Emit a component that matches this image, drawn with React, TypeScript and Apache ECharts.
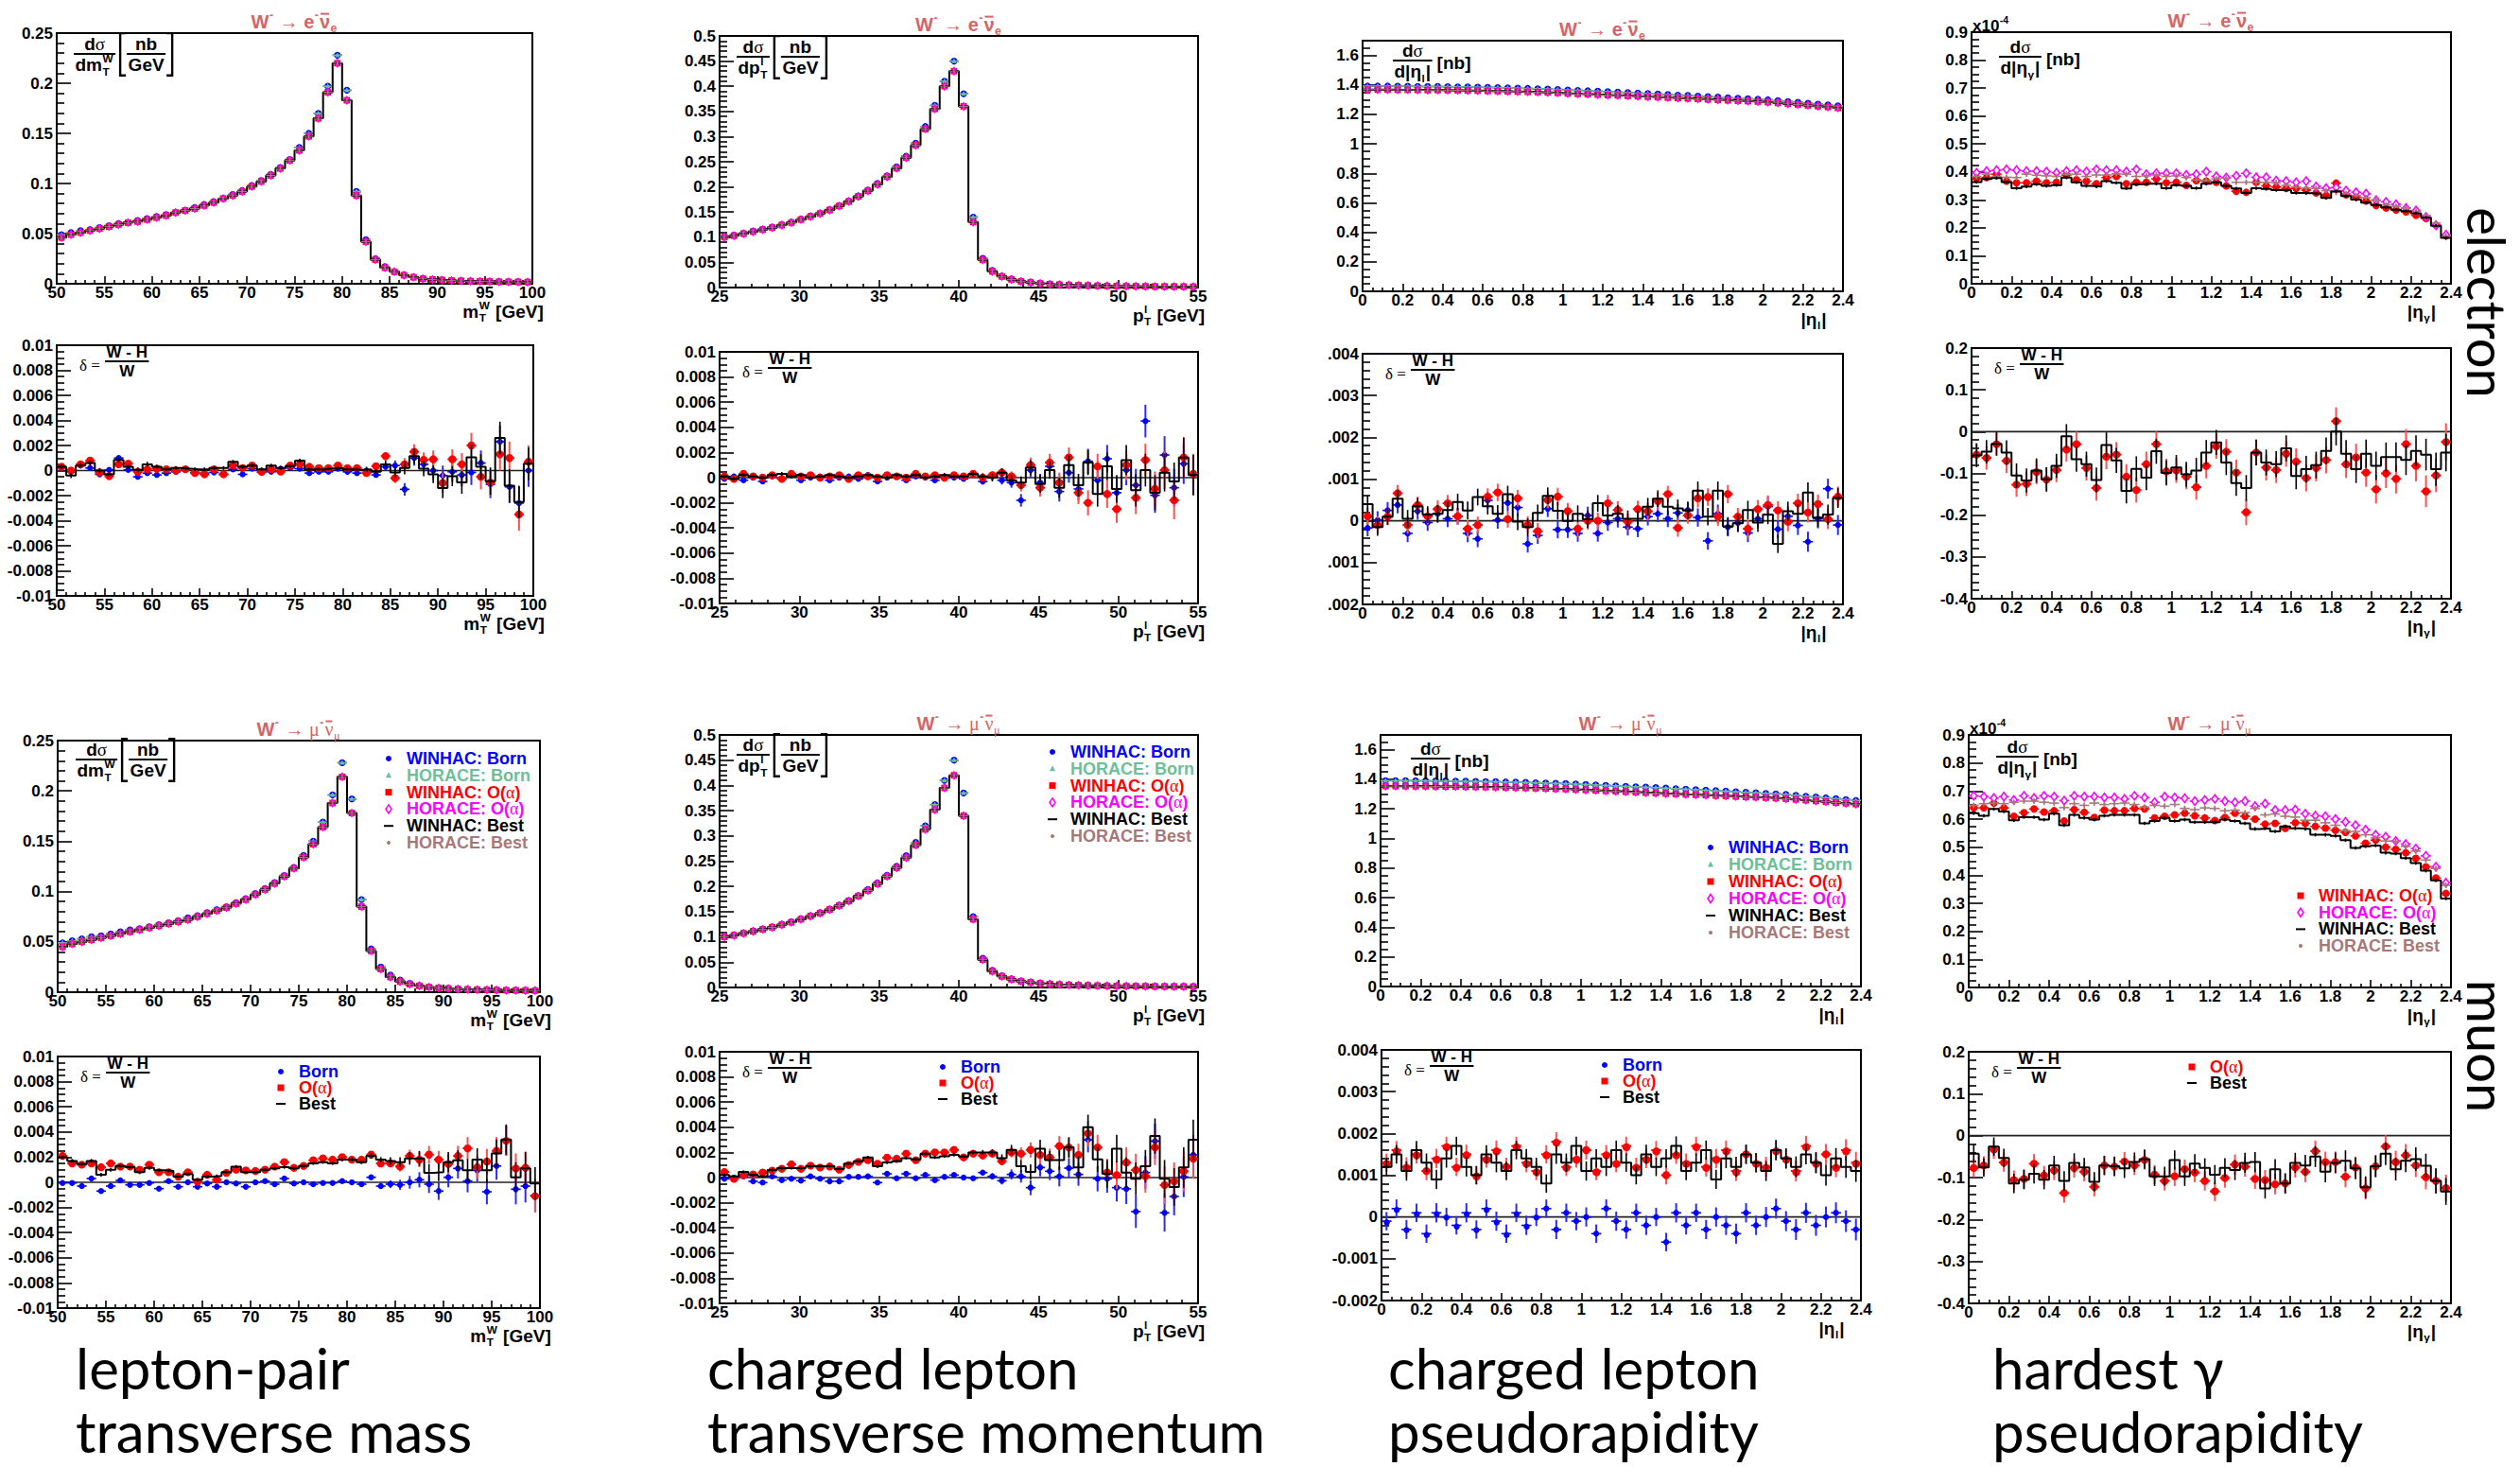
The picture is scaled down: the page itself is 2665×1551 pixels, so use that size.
import React, { useEffect, useRef } from "react";
import * as echarts from "echarts";

/* ---------------- binning ---------------- */
const MT_LO = 50;
const MT_W = 1;
const PT_LO = 25;
const PT_W = 0.6;
const ETA_LO = 0;
const ETA_W = 0.05;

/* ---------------- m_T^W, electron channel ---------------- */
const mtElBorn = [0.049,0.051,0.053,0.054,0.056,0.058,0.060,0.061,0.063,0.065,0.067,0.069,0.071,0.073,0.076,0.079,0.082,0.085,0.089,0.093,0.098,0.103,0.109,0.116,0.124,0.136,0.150,0.170,0.197,0.228,0.193,0.092,0.044,0.025,0.017,0.012,0.0088,0.0067,0.0052,0.0044,0.0038,0.0033,0.003,0.0027,0.0025,0.0023,0.0021,0.002,0.0019,0.0018];
const mtElRad = [0.046,0.049,0.051,0.053,0.055,0.057,0.059,0.061,0.062,0.064,0.066,0.068,0.071,0.073,0.075,0.078,0.081,0.085,0.088,0.092,0.097,0.102,0.108,0.115,0.123,0.133,0.147,0.165,0.191,0.220,0.183,0.088,0.042,0.024,0.016,0.012,0.0085,0.0065,0.005,0.0043,0.0037,0.0032,0.0029,0.0026,0.0024,0.0022,0.002,0.0019,0.0018,0.0017];
const mtElDBorn = [0.0002,-0.0001,0.0004,0.0002,-0.0003,0.00005,0.001,0.00005,-0.0005,-0.0002,-0.00035,-0.0002,-0.0001,0.0001,-0.00015,-0.0002,-0.00015,-0.0003,0.0001,-0.0003,0.00015,-0.00015,-0.0001,0.00015,0.0002,0.00015,-0.0002,-0.0001,-0.0001,0.00015,-0.0001,-0.0002,0,-0.00035,0.0003,0.0004,-0.0015,0.001,0.0005,0,-0.0004,-0.0001,-0.00035,-0.00015,0.0006,-0.0011,0.0023,-0.0013,-0.0026,0];
const mtElDOa = [0.0003,0,0.0005,0.0008,-0.00015,-0.00045,0.0005,0.00055,-0.0001,0.0001,0.00015,0.0001,0,0.0001,-0.0002,-0.0003,0.0001,-0.0003,0.0004,0.0002,0.0004,-0.0001,0.0001,-0.00008,0.0004,0.0005,0.0003,0.0002,0.0002,0.0004,0.0002,0.0002,-0.0002,0.00035,0.00115,-0.0006,0.0005,0.0015,0.00085,0.0009,-0.001,0.0009,0.0005,0.002,-0.0005,-0.00095,0.0013,0.001,-0.0035,0.0007];
const mtElDBest = [0.0003,-0.0004,0.0004,0.0006,0,-0.0003,0.00085,0.0003,0.00005,0.0005,0.0003,0.0001,0.0002,0.00015,0.0001,0.0001,0.0002,0.0002,0.0007,0.0003,0.0004,0.0001,0.0004,0.0002,0.00035,0.0008,0.0001,0.0001,0.00015,0.0002,0.0001,0.00005,0.0001,-0.0001,0.0005,-0.00015,0.0002,0.00115,0.00015,-0.0003,-0.0014,-0.00045,-0.00095,0.00105,0.0003,-0.00085,0.0026,-0.0012,-0.0025,0.00055];
const mtElErr = [0.0002,0.0002,0.0002,0.0002,0.0002,0.0002,0.0002,0.0002,0.0002,0.0002,0.00015,0.00015,0.00015,0.00015,0.00015,0.00015,0.00015,0.00015,0.00015,0.00015,0.00015,0.00015,0.00015,0.00015,0.00015,0.00015,0.00015,0.00015,0.00015,0.00015,0.0002,0.0002,0.0002,0.0002,0.0003,0.0004,0.0005,0.0006,0.0006,0.0007,0.0008,0.0008,0.0009,0.001,0.001,0.0011,0.0013,0.0013,0.0013,0.0013];

/* ---------------- m_T^W, muon channel ---------------- */
const mtMuBorn = [0.049,0.051,0.053,0.055,0.056,0.058,0.060,0.062,0.063,0.065,0.067,0.069,0.071,0.074,0.076,0.079,0.082,0.085,0.089,0.093,0.098,0.103,0.109,0.116,0.124,0.136,0.150,0.169,0.196,0.228,0.192,0.092,0.043,0.025,0.017,0.012,0.0088,0.0067,0.0052,0.0044,0.0038,0.0033,0.003,0.0027,0.0025,0.0023,0.0021,0.002,0.0019,0.0018];
const mtMuRad = [0.045,0.048,0.050,0.052,0.054,0.056,0.058,0.060,0.062,0.064,0.066,0.068,0.070,0.072,0.075,0.078,0.081,0.084,0.088,0.092,0.097,0.102,0.108,0.115,0.123,0.134,0.147,0.164,0.188,0.214,0.178,0.085,0.041,0.023,0.015,0.0105,0.008,0.0063,0.005,0.0042,0.0036,0.0031,0.0028,0.0025,0.0023,0.0021,0.0019,0.0018,0.0017,0.0016];
const mtMuDBorn = [-0.00005,-0.00005,-0.0003,0.0003,-0.0007,-0.0003,0.00015,-0.0002,-0.0002,-0.00005,-0.0005,0.0001,-0.00035,0,-0.00035,-0.0001,-0.00035,0,-0.0001,-0.00035,0,0.0001,-0.00015,0.0003,-0.0001,0,-0.00015,-0.00005,-0.00005,0.0001,0,-0.00015,0.0004,-0.0003,-0.00015,-0.0002,0,0.0002,-0.00015,-0.0007,0.0004,0.0011,0.0001,0.00095,-0.00075,0.0013,0.0033,-0.00055,-0.0003,-0.00105];
const mtMuDOa = [0.0021,0.0015,0.0014,0.0015,0.0012,0.0015,0.00125,0.00125,0.001,0.0014,0.0008,0.0008,0.00045,0.0008,0.00005,0.0006,0.0002,0.00075,0.001,0.00095,0.0009,0.001,0.00125,0.0016,0.00115,0.0013,0.00175,0.0019,0.0018,0.002,0.0018,0.0018,0.0022,0.0015,0.0015,0.00125,0.0021,0.0018,0.0022,0.0018,0.00145,0.0021,0.0027,0.0012,0.00165,0.0025,0.0033,0.0011,0.00115,-0.0011];
const mtMuDBest = [0.002,0.0017,0.00145,0.0017,0.0006,0.001,0.0013,0.0012,0.0008,0.00115,0.00095,0.0009,0.00045,0.00065,0.0002,0.00045,0.0005,0.0008,0.00125,0.0008,0.0008,0.001,0.0011,0.0012,0.0011,0.0013,0.0015,0.0016,0.0015,0.0018,0.0018,0.0016,0.0021,0.0018,0.0017,0.0016,0.0019,0.0019,0.00075,0.0008,0.0016,0.00175,0.00095,0.0018,0.00095,0.0023,0.0034,0.0004,0.0011,-0.0001];
const mtMuErr = [0.00015,0.00015,0.00015,0.00015,0.00015,0.00015,0.00015,0.00015,0.00015,0.00015,0.00012,0.00012,0.00012,0.00012,0.00012,0.00012,0.00012,0.00012,0.00012,0.00012,0.00012,0.00012,0.00012,0.00012,0.00012,0.00012,0.00012,0.00012,0.00012,0.00012,0.00015,0.00015,0.0002,0.0002,0.0003,0.0004,0.0005,0.0006,0.0007,0.0007,0.0008,0.0008,0.0009,0.0009,0.001,0.0011,0.0012,0.0012,0.0013,0.0013];

/* ---------------- p_T^l, electron channel ---------------- */
const ptElBorn = [0.101,0.104,0.108,0.112,0.116,0.120,0.125,0.130,0.136,0.142,0.148,0.155,0.163,0.172,0.182,0.194,0.207,0.222,0.240,0.261,0.287,0.320,0.362,0.410,0.450,0.385,0.140,0.058,0.034,0.023,0.017,0.013,0.0105,0.0085,0.007,0.006,0.0052,0.0046,0.0041,0.0037,0.0033,0.003,0.0028,0.0026,0.0024,0.0022,0.0021,0.002,0.0019,0.0018];
const ptElRad = [0.100,0.103,0.107,0.111,0.115,0.119,0.124,0.129,0.135,0.141,0.147,0.154,0.162,0.171,0.181,0.192,0.205,0.220,0.237,0.258,0.283,0.315,0.355,0.400,0.430,0.360,0.130,0.055,0.032,0.022,0.016,0.012,0.010,0.008,0.0068,0.0058,0.005,0.0044,0.004,0.0036,0.0032,0.0029,0.0027,0.0025,0.0023,0.0021,0.002,0.0019,0.0018,0.0017];
const ptElDBorn = [-0.0001,0.0001,-0.0002,0,-0.0003,0.0001,-0.0001,0.0002,-0.0002,0,0.0001,-0.0002,0,0.0001,-0.0001,0.0002,-0.0003,0,0.0001,-0.0002,0.0001,0,-0.0002,0.0001,0,-0.0001,0.0002,-0.0003,0.0001,-0.0002,-0.0004,-0.0018,0.0006,-0.0004,0.0009,-0.0011,0.0004,-0.0009,0.0013,-0.0002,0.0015,-0.0012,0.0006,-0.0006,0.0045,-0.0014,0.0018,-0.0008,0.0011,0.0002];
const ptElDOa = [0.0001,-0.0001,0.0003,0.0001,0,0.0002,-0.0001,0.0003,0.0001,0.0002,0,0.0001,0.0002,-0.0001,0.0002,0.0001,0,0.0002,0.0001,0,0.0003,0.0001,0.0002,0,0.0002,0.0001,0.0003,0,0.0002,0.0004,0.0001,-0.0006,0.001,-0.0008,0.0012,-0.0004,0.0016,-0.0012,-0.002,0.0009,-0.0013,-0.0025,0.001,-0.0016,0.0014,-0.0009,0.0006,-0.0018,0.0016,0.0003];
const ptElDBest = [0.0001,-0.0001,0.0002,0.0001,0,0.0002,0.0003,0.0001,0.0002,0,0.0001,0.0002,0.0001,0,0.0001,0.0002,0.0001,0,0.0002,0.0001,0.0002,0,0.0001,0.0002,0.0001,0.0001,0.0003,0.0001,0,0.0004,-0.0002,-0.0004,0.0008,-0.0005,0.0006,-0.0008,0.001,-0.0006,0.0012,-0.0013,0.0009,-0.0009,0.0014,-0.001,0.0006,-0.0012,0.0004,-0.0003,0.0016,0.0002];
const ptElErr = [0.00015,0.00015,0.00015,0.00015,0.00015,0.00015,0.00015,0.00015,0.00015,0.00015,0.00015,0.00015,0.00015,0.00015,0.00015,0.00015,0.00015,0.00015,0.00015,0.00015,0.00015,0.00015,0.00015,0.00015,0.00015,0.00015,0.0002,0.00025,0.0003,0.00035,0.0004,0.0005,0.0006,0.0007,0.0007,0.0008,0.0008,0.0009,0.001,0.001,0.0011,0.0011,0.0012,0.0013,0.0013,0.0014,0.0015,0.0015,0.0016,0.0016];

/* ---------------- p_T^l, muon channel ---------------- */
const ptMuBorn = [0.101,0.104,0.108,0.112,0.116,0.120,0.125,0.130,0.136,0.142,0.148,0.155,0.163,0.172,0.182,0.194,0.207,0.222,0.240,0.261,0.287,0.320,0.362,0.410,0.450,0.385,0.140,0.058,0.034,0.023,0.017,0.013,0.0105,0.0085,0.007,0.006,0.0052,0.0046,0.0041,0.0037,0.0033,0.003,0.0028,0.0026,0.0024,0.0022,0.0021,0.002,0.0019,0.0018];
const ptMuRad = [0.100,0.103,0.107,0.111,0.115,0.119,0.124,0.129,0.135,0.141,0.147,0.154,0.162,0.171,0.181,0.192,0.205,0.220,0.237,0.257,0.282,0.313,0.352,0.395,0.420,0.340,0.135,0.055,0.032,0.022,0.016,0.012,0.010,0.008,0.0068,0.0058,0.005,0.0044,0.004,0.0036,0.0032,0.0029,0.0027,0.0025,0.0023,0.0021,0.002,0.0019,0.0018,0.0017];
const ptMuDBorn = [-0.0001,0,0.0001,-0.0003,-0.0004,0.0001,-0.0002,-0.0001,-0.00025,0.0001,-0.0001,-0.0003,-0.0003,0.00005,0.00005,0.0001,-0.0004,0.0003,-0.00005,0.0003,-0.00005,0.0002,-0.0002,0.00005,0.0002,0,-0.00005,0.0004,0.0001,-0.00025,0.00025,0.0001,-0.0008,0.0008,0.0005,0.0001,0.00075,0.00025,0.003,-0.0001,-0.0001,-0.0008,-0.0009,-0.0027,0.0004,0.0029,-0.0028,-0.0015,0.00005,0.0018];
const ptMuDOa = [0.00045,-0.0001,0.0002,0.00025,0.0004,0.00055,0.0007,0.00105,0.0007,0.00095,0.0008,0.00088,0.00063,0.001,0.00125,0.00138,0.0011,0.00158,0.0015,0.0019,0.00138,0.0019,0.002,0.002,0.0022,0.0016,0.0019,0.00175,0.0019,0.0013,0.002,0.0019,0.0022,0.0018,0.0016,0.0025,0.0024,0.0018,0.0035,0.0024,0.0004,0.0002,0.0012,0.0006,0.0001,0.0024,-0.0006,-0.0003,0.0005,0.0015];
const ptMuDBest = [0.0002,0.0001,0.00045,0.0002,0.0001,0.0006,0.00075,0.00075,0.00075,0.0009,0.0009,0.0009,0.00068,0.0011,0.0013,0.0016,0.0009,0.0012,0.0013,0.00155,0.00145,0.0019,0.0016,0.0017,0.0018,0.00168,0.002,0.002,0.002,0.00155,0.0022,0.0009,0.00045,0.0023,0.0014,0.0014,0.0024,0.0008,0.004,0.00145,0.0003,0.0023,0.0004,-0.0001,0.0009,0.0033,-0.0001,-0.00075,0.0008,0.003];
const ptMuErr = [0.00012,0.00012,0.00012,0.00012,0.00012,0.00012,0.00012,0.00012,0.00012,0.00012,0.00012,0.00012,0.00012,0.00012,0.00012,0.00012,0.00012,0.00012,0.00012,0.00012,0.00012,0.00012,0.00012,0.00012,0.00012,0.00012,0.00015,0.0002,0.00025,0.0003,0.0004,0.0005,0.0006,0.0007,0.0007,0.0008,0.0008,0.0009,0.001,0.001,0.0011,0.0011,0.0012,0.0013,0.0013,0.0014,0.0015,0.0015,0.0016,0.0016];

/* ---------------- |eta_l|, electron channel ---------------- */
const etaElBorn = [1.392,1.392,1.392,1.391,1.391,1.390,1.389,1.389,1.388,1.387,1.386,1.385,1.383,1.382,1.380,1.378,1.376,1.374,1.372,1.369,1.366,1.363,1.360,1.357,1.354,1.351,1.348,1.345,1.342,1.338,1.335,1.331,1.328,1.324,1.321,1.317,1.313,1.310,1.306,1.303,1.299,1.293,1.287,1.282,1.276,1.270,1.264,1.258];
const etaElRad = [1.368,1.368,1.368,1.367,1.367,1.366,1.365,1.365,1.364,1.363,1.362,1.361,1.359,1.358,1.356,1.355,1.353,1.351,1.349,1.346,1.342,1.339,1.337,1.334,1.331,1.329,1.326,1.323,1.320,1.317,1.314,1.311,1.308,1.305,1.302,1.299,1.296,1.293,1.290,1.287,1.283,1.278,1.272,1.267,1.261,1.256,1.250,1.244];
const etaElDBorn = [-0.00017,0.00002,0.00025,0.00038,-0.0003,0.00023,-0.00004,0.00017,0.00005,0.00011,-0.0003,-0.00043,0.00049,0.00002,0.00043,0.00032,-0.00055,-0.00035,0.00029,-0.00021,-0.00021,-0.0003,0.00013,-0.0003,-0.00004,0.00005,-0.00015,-0.00019,0.0001,0.00017,0.00005,0.00019,0.00026,0.00008,-0.00048,0.00017,-0.00015,-0.00005,-0.00029,0.00005,0.00034,-0.0002,0.00011,-0.00011,-0.0005,0.00005,0.00077,-0.0001];
const etaElDOa = [0.00011,-0.0001,0.0001,0.00066,-0.0001,0.00038,0.00011,0.00028,0.00042,0.00011,-0.00019,-0.0001,0.00058,0.00068,0.00004,0.00054,-0.0001,-0.00025,0.0005,0.00058,0.00023,-0.00019,0,0,0.00042,0.00026,-0.00002,0.00028,0.00023,0.00047,0.00064,-0.00017,0.00013,0.00054,0.00057,0.0001,0.00064,0.0001,-0.00019,0.00028,0.00038,0.00025,-0.00002,0.00042,0.0002,0.0004,0.00004,0.00058];
const etaElDBest = [0.0004,-0.00015,0.0001,0.00053,0.00005,0.00035,0.00015,0.00017,0.00026,0.00045,0.00025,0.00057,0.00035,0.00017,0.00064,-0.00002,-0.00015,0.00019,0.0006,0.00024,0,0.00017,0.00004,0.00042,0.00013,0.00017,0.00005,0.00005,0.00034,0.00053,0.00034,0.0003,0.00025,0.00072,0.0001,0.00072,-0.00013,-0.00006,0.00026,-0.00004,0.00015,-0.00055,0.00023,0.00017,0.00068,0.00008,0.00015,0.00055];
const etaElErr = [0.0002,0.00021,0.0002,0.0002,0.00021,0.0002,0.0002,0.00021,0.0002,0.0002,0.00021,0.0002,0.0002,0.00021,0.0002,0.0002,0.00021,0.0002,0.0002,0.00021,0.0002,0.0002,0.00021,0.0002,0.0002,0.00021,0.0002,0.0002,0.00021,0.0002,0.0002,0.00021,0.0002,0.00022,0.00021,0.00022,0.00022,0.00021,0.00022,0.00022,0.00023,0.00022,0.00023,0.00023,0.00024,0.00023,0.00024,0.00024];

/* ---------------- |eta_l|, muon channel ---------------- */
const etaMuBorn = [1.391,1.391,1.391,1.390,1.390,1.389,1.389,1.388,1.387,1.386,1.385,1.384,1.382,1.381,1.379,1.377,1.375,1.373,1.371,1.368,1.365,1.362,1.359,1.356,1.353,1.350,1.347,1.344,1.341,1.337,1.334,1.330,1.327,1.323,1.320,1.316,1.312,1.309,1.305,1.302,1.298,1.292,1.286,1.281,1.275,1.269,1.263,1.257];
const etaMuRad = [1.354,1.354,1.354,1.353,1.353,1.352,1.351,1.351,1.350,1.349,1.348,1.347,1.345,1.344,1.342,1.340,1.338,1.336,1.334,1.331,1.328,1.325,1.322,1.319,1.316,1.313,1.310,1.307,1.304,1.301,1.298,1.296,1.293,1.290,1.287,1.284,1.281,1.279,1.276,1.273,1.269,1.264,1.259,1.254,1.249,1.243,1.238,1.232];
const etaMuDBorn = [-0.0001,0.0002,-0.0003,0.0001,-0.0004,0.0001,0,-0.0002,0.0001,-0.0003,0.0002,-0.0001,-0.0004,0.0001,-0.0002,0,0.0002,-0.0003,0.0001,-0.0001,0,-0.0004,0.0002,-0.0001,-0.0003,0.0001,-0.0002,0,-0.0006,0.0001,-0.0002,0.0001,-0.0003,0,-0.0002,-0.0004,0.0001,-0.0002,0,0.0002,-0.0001,-0.0003,0.0001,-0.0002,0,0.0001,-0.0001,-0.0003];
const etaMuDOa = [0.0013,0.0016,0.0012,0.0015,0.0011,0.0014,0.0017,0.0012,0.0015,0.001,0.0014,0.0016,0.0012,0.0017,0.0013,0.0011,0.0015,0.0018,0.0012,0.0014,0.0016,0.0011,0.0015,0.0013,0.0017,0.0012,0.0014,0.0016,0.001,0.0015,0.0013,0.0017,0.0012,0.0014,0.0016,0.0011,0.0015,0.0013,0.0012,0.0016,0.0014,0.0011,0.0017,0.0013,0.0015,0.0012,0.0016,0.0013];
const etaMuDBest = [0.0012,0.0015,0.0011,0.0016,0.0013,0.0009,0.0014,0.0017,0.0012,0.001,0.0015,0.0013,0.0011,0.0016,0.0014,0.0012,0.0008,0.0015,0.0013,0.0017,0.0011,0.0014,0.0012,0.0016,0.0013,0.001,0.0015,0.0012,0.0014,0.0017,0.0011,0.0013,0.0016,0.0009,0.0014,0.0012,0.0015,0.0013,0.0011,0.0016,0.0014,0.0012,0.0015,0.0013,0.001,0.0014,0.0012,0.0011];
const etaMuErr = [0.00022,0.00022,0.00023,0.00022,0.00022,0.00023,0.00022,0.00022,0.00023,0.00022,0.00022,0.00023,0.00022,0.00022,0.00023,0.00022,0.00022,0.00023,0.00022,0.00022,0.00023,0.00022,0.00022,0.00023,0.00022,0.00022,0.00023,0.00022,0.00022,0.00023,0.00022,0.00022,0.00023,0.00023,0.00023,0.00024,0.00023,0.00023,0.00024,0.00024,0.00024,0.00025,0.00024,0.00025,0.00025,0.00025,0.00026,0.00026];

/* ---------------- |eta_gamma| of the hardest photon (units of 1e-4 nb) ---------------- */
const gElOaW = [0.377,0.38,0.392,0.367,0.361,0.361,0.367,0.361,0.363,0.389,0.372,0.367,0.358,0.38,0.384,0.358,0.363,0.363,0.375,0.361,0.363,0.352,0.369,0.367,0.363,0.35,0.331,0.327,0.363,0.35,0.346,0.341,0.341,0.335,0.325,0.316,0.36,0.318,0.31,0.296,0.28,0.271,0.264,0.257,0.245,0.233,0.21,0.172];
const gElOaH = [0.397,0.403,0.406,0.409,0.406,0.403,0.403,0.401,0.397,0.403,0.406,0.401,0.409,0.406,0.406,0.401,0.409,0.392,0.395,0.395,0.395,0.389,0.392,0.401,0.384,0.38,0.386,0.395,0.381,0.381,0.369,0.367,0.363,0.367,0.348,0.342,0.344,0.333,0.327,0.322,0.299,0.293,0.284,0.271,0.262,0.239,0.209,0.175];
const gElBestW = [0.364,0.375,0.378,0.364,0.342,0.348,0.356,0.35,0.353,0.38,0.363,0.35,0.348,0.367,0.361,0.341,0.356,0.358,0.358,0.342,0.353,0.35,0.342,0.358,0.363,0.35,0.341,0.325,0.342,0.339,0.335,0.335,0.325,0.324,0.322,0.307,0.331,0.314,0.301,0.29,0.282,0.273,0.265,0.26,0.252,0.237,0.207,0.164];
const gElBestH = [0.384,0.392,0.384,0.381,0.38,0.392,0.388,0.386,0.384,0.392,0.392,0.384,0.389,0.389,0.393,0.392,0.384,0.386,0.389,0.384,0.386,0.38,0.372,0.37,0.375,0.378,0.363,0.363,0.363,0.363,0.361,0.352,0.346,0.342,0.341,0.333,0.327,0.322,0.316,0.308,0.299,0.282,0.277,0.271,0.26,0.245,0.217,0.172];
const gElDOa = [-0.055,-0.063,-0.03,-0.07,-0.127,-0.125,-0.097,-0.115,-0.092,-0.043,-0.03,-0.087,-0.135,-0.06,-0.055,-0.108,-0.14,-0.078,-0.03,-0.095,-0.093,-0.108,-0.133,-0.082,-0.035,-0.048,-0.098,-0.193,-0.05,-0.086,-0.092,-0.053,-0.072,-0.111,-0.087,-0.068,0.025,-0.078,-0.062,-0.098,-0.138,-0.1,-0.113,-0.03,-0.082,-0.143,-0.105,-0.025];
const gElDBest = [-0.057,-0.048,-0.029,-0.05,-0.105,-0.117,-0.093,-0.114,-0.082,-0.011,-0.066,-0.078,-0.116,-0.032,-0.069,-0.142,-0.089,-0.11,-0.047,-0.099,-0.086,-0.102,-0.093,-0.05,-0.026,-0.074,-0.123,-0.135,-0.05,-0.074,-0.078,-0.04,-0.106,-0.09,-0.08,-0.046,0,-0.053,-0.09,-0.053,-0.082,-0.061,-0.061,-0.068,-0.046,-0.055,-0.09,-0.05];
const gElErr = [0.028,0.028,0.028,0.029,0.029,0.029,0.029,0.029,0.029,0.029,0.03,0.03,0.03,0.03,0.03,0.03,0.03,0.03,0.03,0.03,0.03,0.03,0.03,0.03,0.03,0.03,0.031,0.031,0.031,0.031,0.031,0.031,0.032,0.032,0.032,0.032,0.033,0.033,0.033,0.034,0.034,0.035,0.035,0.036,0.037,0.038,0.04,0.045];

const gMuOaW = [0.64,0.64,0.657,0.64,0.61,0.623,0.636,0.625,0.63,0.593,0.634,0.624,0.606,0.632,0.63,0.63,0.638,0.636,0.604,0.61,0.615,0.621,0.612,0.604,0.595,0.606,0.621,0.61,0.6,0.582,0.585,0.567,0.587,0.585,0.574,0.568,0.56,0.553,0.54,0.514,0.525,0.5,0.492,0.48,0.46,0.43,0.39,0.335];
const gMuOaH = [0.683,0.68,0.675,0.68,0.668,0.683,0.675,0.683,0.68,0.666,0.683,0.68,0.68,0.677,0.677,0.672,0.683,0.677,0.66,0.68,0.677,0.674,0.664,0.668,0.672,0.664,0.66,0.664,0.646,0.655,0.632,0.632,0.634,0.619,0.612,0.61,0.6,0.59,0.578,0.562,0.544,0.537,0.522,0.511,0.495,0.469,0.43,0.373];
const gMuBestW = [0.621,0.612,0.636,0.627,0.596,0.607,0.607,0.598,0.619,0.578,0.615,0.604,0.598,0.612,0.615,0.615,0.615,0.585,0.593,0.604,0.593,0.598,0.589,0.589,0.589,0.598,0.593,0.585,0.565,0.567,0.556,0.574,0.567,0.565,0.544,0.544,0.54,0.525,0.497,0.503,0.506,0.48,0.477,0.461,0.443,0.416,0.382,0.317];
const gMuBestH = [0.649,0.655,0.657,0.655,0.66,0.664,0.664,0.66,0.657,0.641,0.655,0.649,0.657,0.652,0.655,0.657,0.652,0.643,0.649,0.646,0.652,0.638,0.634,0.64,0.638,0.63,0.632,0.623,0.638,0.615,0.618,0.61,0.607,0.596,0.596,0.587,0.578,0.559,0.556,0.544,0.533,0.522,0.52,0.503,0.486,0.454,0.424,0.364];
const gMuDOa = [-0.077,-0.071,-0.033,-0.064,-0.106,-0.103,-0.067,-0.095,-0.083,-0.137,-0.077,-0.086,-0.122,-0.071,-0.074,-0.062,-0.071,-0.058,-0.093,-0.108,-0.097,-0.08,-0.088,-0.108,-0.133,-0.101,-0.069,-0.074,-0.103,-0.106,-0.116,-0.114,-0.076,-0.086,-0.037,-0.063,-0.063,-0.098,-0.076,-0.126,-0.073,-0.026,-0.063,-0.047,-0.071,-0.099,-0.108,-0.125];
const gMuDBest = [-0.043,-0.076,-0.026,-0.053,-0.114,-0.105,-0.091,-0.105,-0.071,-0.108,-0.065,-0.076,-0.11,-0.071,-0.073,-0.078,-0.063,-0.056,-0.097,-0.097,-0.058,-0.097,-0.067,-0.077,-0.093,-0.077,-0.082,-0.065,-0.063,-0.126,-0.08,-0.114,-0.065,-0.071,-0.05,-0.086,-0.065,-0.06,-0.078,-0.123,-0.073,-0.043,-0.08,-0.06,-0.056,-0.072,-0.108,-0.133];
const gMuErr = [0.022,0.022,0.022,0.022,0.023,0.023,0.023,0.023,0.023,0.023,0.023,0.023,0.023,0.023,0.023,0.023,0.023,0.023,0.023,0.023,0.023,0.023,0.023,0.023,0.023,0.023,0.024,0.024,0.024,0.024,0.024,0.024,0.024,0.025,0.025,0.025,0.025,0.025,0.026,0.026,0.026,0.027,0.027,0.027,0.028,0.029,0.03,0.032];
const gTopErr = [0.006,0.006,0.006,0.006,0.006,0.006,0.006,0.006,0.006,0.006,0.006,0.006,0.006,0.006,0.006,0.006,0.006,0.006,0.006,0.006,0.006,0.006,0.006,0.006,0.006,0.006,0.006,0.006,0.006,0.006,0.006,0.006,0.006,0.006,0.006,0.006,0.006,0.006,0.006,0.006,0.006,0.006,0.006,0.006,0.006,0.006,0.006,0.006];

/* ---------------- look ---------------- */
const FONT = "'Liberation Sans', Arial, Helvetica, sans-serif";
const SERIF = "'Liberation Serif', 'DejaVu Serif', serif";
const CAPTION_FONT = "Lato, 'Open Sans', sans-serif";
const COL = {
  blue: "#0000ff",
  teal: "#6cbf96",
  red: "#ff0000",
  redErr: "#ff5050",
  magenta: "#ff00ff",
  black: "#000000",
  brown: "#a87878",
  title: "#d76464",
};

/* ---------------- text helpers ---------------- */
let measureCtx = null;
function tw(text, font) {
  if (!measureCtx) measureCtx = document.createElement("canvas").getContext("2d");
  measureCtx.font = font;
  return measureCtx.measureText(text).width;
}
function fontOf(size, weight, family) {
  return `${weight || "bold"} ${size}px ${family || FONT}`;
}
function txt(x, y, text, font, color, align, extra) {
  return Object.assign(
    {
      type: "text",
      x,
      y,
      silent: true,
      z: 50,
      style: {
        text,
        font,
        fill: color,
        align,
        textAlign: align,
        verticalAlign: "middle",
        textVerticalAlign: "middle",
      },
    },
    extra || {}
  );
}
function gline(x1, y1, x2, y2, color, width) {
  return { type: "line", silent: true, z: 50, shape: { x1, y1, x2, y2 }, style: { stroke: color, lineWidth: width } };
}
function segW(s, fs) {
  if (s.t !== undefined) return tw(s.t, fontOf(fs, s.w, s.fam));
  const ss = fs * 0.62;
  const a = s.sup ? tw(s.sup, fontOf(ss, s.w, s.fam)) : 0;
  const b = s.sub ? tw(s.sub, fontOf(ss, s.w, s.fam)) : 0;
  return Math.max(a, b) + 1.5;
}
function segsW(segs, fs) {
  return segs.reduce((a, s) => a + segW(s, fs), 0);
}
function drawSegs(segs, x, y, fs, color, align) {
  const total = segsW(segs, fs);
  let cx = align === "left" ? x : align === "center" ? x - total / 2 : x - total;
  const out = [];
  for (const s of segs) {
    const w = segW(s, fs);
    if (s.t !== undefined) {
      out.push(txt(cx, y, s.t, fontOf(fs, s.w, s.fam), color, "left"));
      if (s.bar) out.push(gline(cx + 1, y - fs * 0.42, cx + w - 1, y - fs * 0.42, color, 2));
    } else {
      const ss = fs * 0.62;
      if (s.sup) out.push(txt(cx + 0.5, y - fs * 0.36, s.sup, fontOf(ss, s.w, s.fam), color, "left"));
      if (s.sub) out.push(txt(cx + 0.5, y + fs * 0.34, s.sub, fontOf(ss, s.w, s.fam), color, "left"));
    }
    cx += w;
  }
  return out;
}
function fraction(num, den, x, lineY, fs) {
  const L = Math.max(segsW(num, fs), segsW(den, fs)) + 3;
  const cx = x + L / 2;
  return {
    width: L,
    els: [
      ...drawSegs(num, cx, lineY - fs * 0.55, fs, COL.black, "center"),
      gline(x, lineY, x + L, lineY, COL.black, 2),
      ...drawSegs(den, cx, lineY + fs * 0.62, fs, COL.black, "center"),
    ],
  };
}
function bracketFraction(num, den, x, lineY, fs) {
  const inner = fraction(num, den, x + 8, lineY, fs);
  const top = lineY - fs * 1.15;
  const bot = lineY + fs * 1.2;
  const r = x + 8 + inner.width + 8;
  const br = (xx, dir) => ({
    type: "polyline",
    silent: true,
    z: 50,
    shape: { points: [[xx + dir * 6, top], [xx, top], [xx, bot], [xx + dir * 6, bot]] },
    style: { stroke: COL.black, lineWidth: 2.4, fill: null },
  });
  return [br(x + 1, 1), ...inner.els, br(r - 1, -1)];
}

/* ---------------- panel layout ---------------- */
const MT_AX = { min: 50, max: 100, interval: 5, minor: 5 };
const PT_AX = { min: 25, max: 55, interval: 5, minor: 5 };
const ETA_AX = { min: 0, max: 2.4, interval: 0.2, minor: 4 };

const PANELS = [
  // electron row: distributions
  { box: [60, 35, 503, 265], xa: MT_AX, ya: { min: 0, max: 0.25, interval: 0.05, minor: 5 }, lo: MT_LO, bw: MT_W, kind: "dist", born: mtElBorn, rad: mtElRad, q: "mt", lep: "e", xt: "mt", qx: 18, qy: 22 },
  { box: [761, 38, 506, 266], xa: PT_AX, ya: { min: 0, max: 0.5, interval: 0.05, minor: 5 }, lo: PT_LO, bw: PT_W, kind: "dist", born: ptElBorn, rad: ptElRad, q: "pt", lep: "e", xt: "pt", qx: 18, qy: 22 },
  { box: [1441, 43, 508, 265], xa: ETA_AX, ya: { min: 0, max: 1.7, interval: 0.2, minor: 4, hideMax: true }, lo: ETA_LO, bw: ETA_W, kind: "dist", born: etaElBorn, rad: etaElRad, q: "eta", lep: "e", xt: "eta", qx: 32, qy: 21 },
  { box: [2085, 34, 507, 266], xa: ETA_AX, ya: { min: 0, max: 0.9, interval: 0.1, minor: 4 }, lo: ETA_LO, bw: ETA_W, kind: "gamma", oaW: gElOaW, oaH: gElOaH, bestW: gElBestW, bestH: gElBestH, q: "geta", lep: "e", xt: "geta", qx: 29, qy: 26, expo: true },
  // electron row: relative differences
  { box: [60, 365, 504, 265], xa: MT_AX, ya: { min: -0.01, max: 0.01, interval: 0.002, minor: 4 }, lo: MT_LO, bw: MT_W, kind: "ratio", dBorn: mtElDBorn, dOa: mtElDOa, dBest: mtElDBest, err: mtElErr, xt: "mt" },
  { box: [761, 372, 506, 266], xa: PT_AX, ya: { min: -0.01, max: 0.01, interval: 0.002, minor: 4 }, lo: PT_LO, bw: PT_W, kind: "ratio", dBorn: ptElDBorn, dOa: ptElDOa, dBest: ptElDBest, err: ptElErr, xt: "pt" },
  { box: [1441, 374, 508, 265], xa: ETA_AX, ya: { min: -0.002, max: 0.004, interval: 0.001, minor: 5 }, lo: ETA_LO, bw: ETA_W, kind: "ratio", dBorn: etaElDBorn, dOa: etaElDOa, dBest: etaElDBest, err: etaElErr, xt: "eta" },
  { box: [2085, 368, 507, 265], xa: ETA_AX, ya: { min: -0.4, max: 0.2, interval: 0.1, minor: 5 }, lo: ETA_LO, bw: ETA_W, kind: "ratio", dOa: gElDOa, dBest: gElDBest, err: gElErr, xt: "geta" },
  // muon row: distributions
  { box: [61, 783, 510, 266], xa: MT_AX, ya: { min: 0, max: 0.25, interval: 0.05, minor: 5 }, lo: MT_LO, bw: MT_W, kind: "dist", born: mtMuBorn, rad: mtMuRad, q: "mt", lep: "mu", xt: "mt", qx: 19, qy: 20, legend: [350, 19, 17.8] },
  { box: [761, 777, 506, 267], xa: PT_AX, ya: { min: 0, max: 0.5, interval: 0.05, minor: 5 }, lo: PT_LO, bw: PT_W, kind: "dist", born: ptMuBorn, rad: ptMuRad, q: "pt", lep: "mu", xt: "pt", qx: 18, qy: 21, legend: [352, 18, 17.8] },
  { box: [1460, 777, 508, 266], xa: ETA_AX, ya: { min: 0, max: 1.7, interval: 0.2, minor: 4, hideMax: true }, lo: ETA_LO, bw: ETA_W, kind: "dist", born: etaMuBorn, rad: etaMuRad, q: "eta", lep: "mu", xt: "eta", qx: 32, qy: 25, legend: [349, 119, 18] },
  { box: [2082, 777, 510, 267], xa: ETA_AX, ya: { min: 0, max: 0.9, interval: 0.1, minor: 4 }, lo: ETA_LO, bw: ETA_W, kind: "gamma", oaW: gMuOaW, oaH: gMuOaH, bestW: gMuBestW, bestH: gMuBestH, q: "geta", lep: "mu", xt: "geta", qx: 29, qy: 23, expo: true, legend: [351, 170, 17.7] },
  // muon row: relative differences
  { box: [61, 1117, 510, 266], xa: MT_AX, ya: { min: -0.01, max: 0.01, interval: 0.002, minor: 4 }, lo: MT_LO, bw: MT_W, kind: "ratio", dBorn: mtMuDBorn, dOa: mtMuDOa, dBest: mtMuDBest, err: mtMuErr, xt: "mt", legend: [236, 16, 17] },
  { box: [761, 1112, 506, 266], xa: PT_AX, ya: { min: -0.01, max: 0.01, interval: 0.002, minor: 4 }, lo: PT_LO, bw: PT_W, kind: "ratio", dBorn: ptMuDBorn, dOa: ptMuDOa, dBest: ptMuDBest, err: ptMuErr, xt: "pt", legend: [236, 16, 17] },
  { box: [1461, 1110, 507, 265], xa: ETA_AX, ya: { min: -0.002, max: 0.004, interval: 0.001, minor: 5 }, lo: ETA_LO, bw: ETA_W, kind: "ratio", dBorn: etaMuDBorn, dOa: etaMuDOa, dBest: etaMuDBest, err: etaMuErr, xt: "eta", legend: [236, 16, 17] },
  { box: [2082, 1112, 510, 266], xa: ETA_AX, ya: { min: -0.4, max: 0.2, interval: 0.1, minor: 5 }, lo: ETA_LO, bw: ETA_W, kind: "ratio", dOa: gMuDOa, dBest: gMuDBest, err: gMuErr, xt: "geta", legend: [236, 16, 17] },
];

/* ---------------- series builders ---------------- */
function markerEl(shape, x, y, s, color) {
  if (shape === "circle") return { type: "circle", shape: { cx: x, cy: y, r: s }, style: { fill: color } };
  if (shape === "square") return { type: "rect", shape: { x: x - s, y: y - s, width: 2 * s, height: 2 * s }, style: { fill: color } };
  if (shape === "triangle")
    return { type: "polygon", shape: { points: [[x, y - s * 1.2], [x + s, y + s * 0.8], [x - s, y + s * 0.8]] }, style: { fill: color } };
  if (shape === "diamond")
    return { type: "polygon", shape: { points: [[x, y - s * 1.3], [x + s, y], [x, y + s * 1.3], [x - s, y]] }, style: { fill: color } };
  if (shape === "odiamond")
    return { type: "polygon", shape: { points: [[x, y - s * 1.3], [x + s, y], [x, y + s * 1.3], [x - s, y]] }, style: { fill: "#ffffff", stroke: color, lineWidth: 1.6 } };
  if (shape === "plus") return { type: "line", shape: { x1: x, y1: y - s, x2: x, y2: y + s }, style: { stroke: color, lineWidth: 1.6 } };
  return { type: "circle", shape: { cx: x, cy: y, r: 0 }, style: { fill: "none" } };
}

function pointSeries(gi, lo, bw, vals, errs, o) {
  const data = vals.map((v, i) => [lo + (i + 0.5) * bw, v, bw / 2, errs ? errs[i] : 0]);
  return {
    type: "custom",
    xAxisIndex: gi,
    yAxisIndex: gi,
    silent: true,
    z: o.z || 3,
    data,
    renderItem: (params, api) => {
      const x = api.value(0);
      const y = api.value(1);
      const hw = api.value(2);
      const e = api.value(3);
      const p = api.coord([x, y]);
      const pl = api.coord([x - hw, y]);
      const pr = api.coord([x + hw, y]);
      const children = [];
      if (o.bar) children.push({ type: "line", shape: { x1: pl[0], y1: p[1], x2: pr[0], y2: p[1] }, style: { stroke: o.bar, lineWidth: o.barW || 1.6 } });
      if (e > 0) {
        const pt = api.coord([x, y + e]);
        const pb = api.coord([x, y - e]);
        children.push({ type: "line", shape: { x1: p[0], y1: pt[1], x2: p[0], y2: pb[1] }, style: { stroke: o.err || o.color, lineWidth: o.errW || 2 } });
      }
      children.push(markerEl(o.shape, p[0], p[1], o.size, o.color));
      return { type: "group", children };
    },
  };
}

function stepSeries(gi, lo, bw, vals) {
  const data = vals.map((v, i) => [lo + i * bw, v]);
  data.push([lo + vals.length * bw, vals[vals.length - 1]]);
  return {
    type: "line",
    xAxisIndex: gi,
    yAxisIndex: gi,
    step: "end",
    data,
    symbol: "none",
    silent: true,
    z: 4,
    lineStyle: { color: COL.black, width: 2 },
  };
}

function zeroLine(gi, xa) {
  return {
    type: "line",
    xAxisIndex: gi,
    yAxisIndex: gi,
    data: [[xa.min, 0], [xa.max, 0]],
    symbol: "none",
    silent: true,
    z: 2,
    lineStyle: { color: "#222", width: 1.6 },
  };
}

/* ---------------- annotations ---------------- */
function titleEls(p) {
  const [l, t, w] = p.box;
  const segs =
    p.lep === "e"
      ? [{ t: "W" }, { sup: "-" }, { t: " \u2192 ", w: "normal" }, { t: "e" }, { sup: "-" }, { t: "\u03bd", bar: true }, { sub: "e" }]
      : [{ t: "W" }, { sup: "-" }, { t: " \u2192 ", w: "normal" }, { t: "\u03bc", w: "normal", fam: SERIF }, { sup: "-" }, { t: "\u03bd", w: "normal", fam: SERIF, bar: true }, { sub: "\u03bc", w: "normal", fam: SERIF }];
  return drawSegs(segs, l + w / 2, t - 12, 20, COL.title, "center");
}

function quantityEls(p) {
  const [l, t] = p.box;
  const x = l + p.qx;
  const y = t + p.qy;
  const fs = 19;
  if (p.q === "mt" || p.q === "pt") {
    const den = p.q === "mt" ? [{ t: "dm" }, { sup: "W", sub: "T" }] : [{ t: "dp" }, { sup: "l", sub: "T" }];
    const f = fraction([{ t: "d" }, { t: "\u03c3", w: "normal", fam: SERIF }], den, x, y, fs);
    return [...f.els, ...bracketFraction([{ t: "nb" }], [{ t: "GeV" }], x + f.width + 4, y, fs)];
  }
  const den = p.q === "eta" ? [{ t: "d|\u03b7" }, { sub: "l" }, { t: "|" }] : [{ t: "d|\u03b7" }, { sub: "\u03b3" }, { t: "|" }];
  const f = fraction([{ t: "d" }, { t: "\u03c3", w: "normal", fam: SERIF }], den, x, y, fs);
  return [...f.els, txt(x + f.width + 5, y + 2, "[nb]", fontOf(fs), COL.black, "left")];
}

function deltaEls(p) {
  const [l, t] = p.box;
  const fs = 17;
  const y = t + 17;
  const f = fraction([{ t: "W - H" }], [{ t: "W" }], l + 51, y, fs);
  return [txt(l + 24, y + 4, "\u03b4 =", `normal ${fs}px ${SERIF}`, COL.black, "left"), ...f.els];
}

function xTitleEls(p) {
  const [l, t, w, h] = p.box;
  const cx = l + w - 31;
  const y = t + h + 29;
  let segs;
  if (p.xt === "mt") segs = [{ t: "m" }, { sup: "W", sub: "T" }, { t: " [GeV]" }];
  else if (p.xt === "pt") segs = [{ t: "p" }, { sup: "l", sub: "T" }, { t: " [GeV]" }];
  else if (p.xt === "eta") segs = [{ t: "|\u03b7" }, { sub: "l" }, { t: "|" }];
  else segs = [{ t: "|\u03b7" }, { sub: "\u03b3" }, { t: "|" }];
  return drawSegs(segs, cx, y, 19, COL.black, "center");
}

function legendMarker(shape, x, y, color) {
  const el = (o) => Object.assign({ silent: true, z: 50 }, o);
  if (shape === "circle") return [el({ type: "circle", shape: { cx: x, cy: y, r: 3 }, style: { fill: color } })];
  if (shape === "triangle") return [el({ type: "polygon", shape: { points: [[x, y - 3.5], [x + 3, y + 2.5], [x - 3, y + 2.5]] }, style: { fill: color } })];
  if (shape === "square") return [el({ type: "rect", shape: { x: x - 3.5, y: y - 3.5, width: 7, height: 7 }, style: { fill: color } })];
  if (shape === "odiamond") return [el({ type: "polygon", shape: { points: [[x, y - 4.5], [x + 3, y], [x, y + 4.5], [x - 3, y]] }, style: { fill: "#fff", stroke: color, lineWidth: 1.6 } })];
  if (shape === "dash") return [gline(x - 5, y, x + 5, y, color, 2)];
  return [el({ type: "circle", shape: { cx: x, cy: y, r: 2 }, style: { fill: color } })];
}

const TOP_LEGEND = [
  { shape: "circle", color: COL.blue, segs: [{ t: "WINHAC: Born" }] },
  { shape: "triangle", color: COL.teal, segs: [{ t: "HORACE: Born" }] },
  { shape: "square", color: COL.red, segs: [{ t: "WINHAC: O(" }, { t: "\u03b1", w: "normal", fam: SERIF }, { t: ")" }] },
  { shape: "odiamond", color: COL.magenta, segs: [{ t: "HORACE: O(" }, { t: "\u03b1", w: "normal", fam: SERIF }, { t: ")" }] },
  { shape: "dash", color: COL.black, segs: [{ t: "WINHAC: Best" }] },
  { shape: "star", color: COL.brown, segs: [{ t: "HORACE: Best" }] },
];
const RATIO_LEGEND = [
  { shape: "circle", color: COL.blue, segs: [{ t: "Born" }] },
  { shape: "square", color: COL.red, segs: [{ t: "O(" }, { t: "\u03b1", w: "normal", fam: SERIF }, { t: ")" }] },
  { shape: "dash", color: COL.black, segs: [{ t: "Best" }] },
];

function legendEls(p) {
  if (!p.legend) return [];
  const [dx, dy, step] = p.legend;
  const [l, t] = p.box;
  let items;
  if (p.kind === "dist") items = TOP_LEGEND;
  else if (p.kind === "gamma") items = TOP_LEGEND.slice(2);
  else if (p.dBorn) items = RATIO_LEGEND;
  else items = RATIO_LEGEND.slice(1);
  const out = [];
  items.forEach((it, k) => {
    const y = t + dy + k * step;
    out.push(...legendMarker(it.shape, l + dx, y, it.color));
    out.push(...drawSegs(it.segs, l + dx + 19, y, 18, it.color, "left"));
  });
  return out;
}

/* ---------------- option ---------------- */
function fmt(v) {
  return String(parseFloat(Number(v).toFixed(6)));
}

function buildOption() {
  const grid = [];
  const xAxis = [];
  const yAxis = [];
  const series = [];
  const elements = [];

  PANELS.forEach((p, gi) => {
    const [l, t, w, h] = p.box;
    grid.push({ left: l, top: t, width: w, height: h, show: true, borderColor: "#000", borderWidth: 2, backgroundColor: "#fff", containLabel: false });
    const tickStyle = { color: "#000", width: 1.6 };
    xAxis.push({
      type: "value",
      gridIndex: gi,
      min: p.xa.min,
      max: p.xa.max,
      interval: p.xa.interval,
      axisLine: { show: true, onZero: false, lineStyle: { color: "#000", width: 2 } },
      axisTick: { show: true, inside: true, length: 8, lineStyle: tickStyle },
      minorTick: { show: true, splitNumber: p.xa.minor, length: 4, lineStyle: tickStyle },
      splitLine: { show: false },
      axisLabel: { show: true, margin: 3, lineHeight: 13, color: "#000", fontFamily: FONT, fontWeight: "bold", fontSize: 17, formatter: fmt, showMinLabel: true, showMaxLabel: true },
    });
    yAxis.push({
      type: "value",
      gridIndex: gi,
      min: p.ya.min,
      max: p.ya.max,
      interval: p.ya.interval,
      axisLine: { show: true, onZero: false, lineStyle: { color: "#000", width: 2 } },
      axisTick: { show: true, inside: true, length: 15, lineStyle: tickStyle },
      minorTick: { show: true, splitNumber: p.ya.minor, length: 8, lineStyle: tickStyle },
      splitLine: { show: false },
      axisLabel: { show: true, margin: 4, color: "#000", fontFamily: FONT, fontWeight: "bold", fontSize: 17, formatter: fmt, showMinLabel: true, showMaxLabel: !p.ya.hideMax },
    });

    if (p.kind === "dist") {
      series.push(pointSeries(gi, p.lo, p.bw, p.born, null, { shape: "circle", size: 3.6, color: COL.blue, bar: COL.blue, z: 3 }));
      series.push(pointSeries(gi, p.lo, p.bw, p.born, null, { shape: "triangle", size: 2.6, color: COL.teal, bar: COL.teal, z: 3 }));
      series.push(pointSeries(gi, p.lo, p.bw, p.rad, null, { shape: "square", size: 3.4, color: COL.red, bar: COL.red, z: 3 }));
      series.push(pointSeries(gi, p.lo, p.bw, p.rad, null, { shape: "diamond", size: 3.8, color: COL.magenta, bar: COL.magenta, z: 3 }));
      series.push(stepSeries(gi, p.lo, p.bw, p.rad));
      series.push(pointSeries(gi, p.lo, p.bw, p.rad, null, { shape: "plus", size: 2, color: COL.brown, bar: COL.brown, barW: 1, z: 5 }));
    } else if (p.kind === "gamma") {
      series.push(pointSeries(gi, p.lo, p.bw, p.oaW, gTopErr, { shape: "circle", size: 4, color: COL.red, bar: COL.red, err: COL.red, z: 3 }));
      series.push(pointSeries(gi, p.lo, p.bw, p.oaH, gTopErr, { shape: "odiamond", size: 3.4, color: COL.magenta, bar: COL.magenta, err: COL.magenta, z: 3 }));
      series.push(stepSeries(gi, p.lo, p.bw, p.bestW));
      series.push(pointSeries(gi, p.lo, p.bw, p.bestW, gTopErr, { shape: "none", size: 0, color: COL.black, err: COL.black, errW: 1.6, z: 4 }));
      series.push(pointSeries(gi, p.lo, p.bw, p.bestH, gTopErr, { shape: "plus", size: 3, color: COL.brown, bar: COL.brown, err: COL.brown, errW: 1.6, z: 3 }));
    } else {
      series.push(zeroLine(gi, p.xa));
      if (p.dBorn) series.push(pointSeries(gi, p.lo, p.bw, p.dBorn, p.err, { shape: "circle", size: 3.2, color: COL.blue, bar: COL.blue, err: "#2a2aff", errW: 2, z: 3 }));
      series.push(pointSeries(gi, p.lo, p.bw, p.dOa, p.err, { shape: "circle", size: 4.2, color: COL.red, bar: COL.red, barW: 2, err: COL.redErr, errW: 2, z: 3 }));
      series.push(stepSeries(gi, p.lo, p.bw, p.dBest));
      series.push(pointSeries(gi, p.lo, p.bw, p.dBest, p.err, { shape: "none", size: 0, color: COL.black, err: COL.black, errW: 1.6, z: 4 }));
    }

    // annotations
    if (p.kind === "dist" || p.kind === "gamma") {
      elements.push(...titleEls(p));
      elements.push(...quantityEls(p));
    } else {
      elements.push(...deltaEls(p));
    }
    if (p.expo) {
      elements.push(...drawSegs([{ t: "x10" }, { sup: "-4" }], l + 1, t - 7, 17, COL.black, "left"));
    }
    elements.push(...xTitleEls(p));
    elements.push(...legendEls(p));
  });

  // the left edge of the electron |eta_l| difference panel is cut off
  elements.push({ type: "rect", silent: true, z: 200, shape: { x: 1370, y: 355, width: 34, height: 300 }, style: { fill: "#ffffff" } });

  // channel names on the right
  elements.push(txt(2630, 320, "electron", `normal 56px ${CAPTION_FONT}`, COL.black, "center", { rotation: -Math.PI / 2 }));
  elements.push(txt(2630, 1106, "muon", `normal 56px ${CAPTION_FONT}`, COL.black, "center", { rotation: -Math.PI / 2 }));

  // column captions
  const captions = [
    [80, "lepton-pair", "transverse mass"],
    [748, "charged lepton", "transverse momentum"],
    [1468, "charged lepton", "pseudorapidity"],
    [2107, "hardest \u03b3", "pseudorapidity"],
  ];
  captions.forEach(([x, a, b]) => {
    elements.push(txt(x, 1446, a, `normal 60px ${CAPTION_FONT}`, COL.black, "left"));
    elements.push(txt(x, 1513, b, `normal 60px ${CAPTION_FONT}`, COL.black, "left"));
  });

  return {
    animation: false,
    backgroundColor: "#ffffff",
    grid,
    xAxis,
    yAxis,
    series,
    graphic: { elements },
  };
}

export default function App() {
  const ref = useRef(null);
  useEffect(() => {
    const chart = echarts.init(ref.current, undefined, { renderer: "svg" });
    chart.setOption(buildOption());
    return () => chart.dispose();
  }, []);
  return <div ref={ref} style={{ position: "absolute", left: 0, top: 0, width: 2665, height: 1551, background: "#ffffff" }} />;
}
